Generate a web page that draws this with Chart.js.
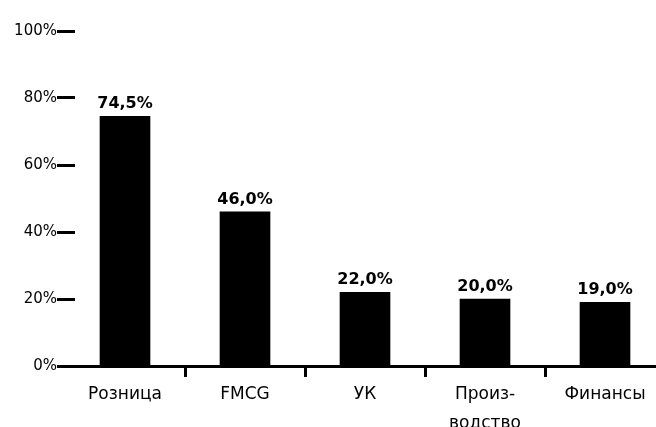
<!DOCTYPE html>
<html>
<head>
<meta charset="utf-8">
<script src="https://cdn.jsdelivr.net/npm/chart.js@4"></script>
<style>
  html, body { margin: 0; padding: 0; background: #fff; overflow: hidden; }
  #wrap { width: 665px; height: 427px; position: relative; }
</style>
</head>
<body>
<div id="wrap"><canvas id="chart"></canvas></div>
<script>
const categories = ["Розница", "FMCG", "УК", ["Произ-", "водство"], "Финансы"]
const shares = [74.5, 46.0, 22.0, 20.0, 19.0]
const shareLabels = ["74,5%", "46,0%", "22,0%", "20,0%", "19,0%"]
const yTicks = [0, 20, 40, 60, 80, 100]

// values printed above each bar
const barLabels = {
    id: "barLabels",
    afterDatasetsDraw(chart) {
        const ctx = chart.ctx
        const meta = chart.getDatasetMeta(0)
        ctx.save()
        ctx.fillStyle = "#000"
        ctx.font = "bold 16px 'DejaVu Sans'"
        ctx.textAlign = "center"
        ctx.textBaseline = "alphabetic"
        meta.data.forEach((bar, i) => {
            ctx.fillText(shareLabels[i], bar.x, bar.y - 8)
        })
        ctx.restore()
    }
}

// the y tick dashes run a little into the plot
const longTicks = {
    id: "longTicks",
    afterDraw(chart) {
        const ctx = chart.ctx
        const y = chart.scales.y
        const left = chart.chartArea.left
        ctx.save()
        ctx.strokeStyle = "#000"
        ctx.lineWidth = 3
        yTicks.forEach(v => {
            // same pixel snapping as the x axis border
            const py = Math.round(y.getPixelForValue(v) - 1.5) + 1.5
            ctx.beginPath()
            ctx.moveTo(left - 8, py)
            ctx.lineTo(v === 0 ? left : left + 10, py)
            ctx.stroke()
        })
        ctx.restore()
    }
}

new Chart(document.getElementById("chart"), {
    type: "bar",
    data: {
        labels: categories,
        datasets: [{
            data: shares,
            backgroundColor: "#000",
            borderWidth: 0,
            barThickness: 50
        }]
    },
    options: {
        responsive: true,
        maintainAspectRatio: false,
        animation: false,
        layout: { padding: { top: 31, right: 0, left: 0, bottom: 0 } },
        plugins: { legend: { display: false }, tooltip: { enabled: false } },
        scales: {
            y: {
                min: 0,
                max: 100,
                afterBuildTicks: scale => { scale.ticks = yTicks.map(v => ({ value: v })) },
                afterFit: scale => { scale.width = 65 },
                border: { display: false },
                grid: {
                    drawOnChartArea: false,
                    drawTicks: true,
                    tickLength: 8,
                    tickColor: "rgba(0,0,0,0)"
                },
                ticks: {
                    color: "#000",
                    padding: 0,
                    font: { family: "'DejaVu Sans'", size: 15 },
                    callback: v => v + "%"
                }
            },
            x: {
                afterFit: scale => { scale.height = 61 },
                border: { display: true, color: "#000", width: 3 },
                grid: {
                    drawOnChartArea: false,
                    drawTicks: true,
                    tickLength: 11,
                    tickWidth: 3,
                    tickColor: ctx => (ctx.index === undefined || ctx.index === 0 || ctx.index >= categories.length) ? "rgba(0,0,0,0)" : "#000"
                },
                ticks: {
                    color: "#000",
                    padding: 3,
                    maxRotation: 0,
                    autoSkip: false,
                    font: { family: "'DejaVu Sans'", size: 17, lineHeight: 1.7 }
                }
            }
        }
    },
    plugins: [barLabels, longTicks]
})
</script>
</body>
</html>
